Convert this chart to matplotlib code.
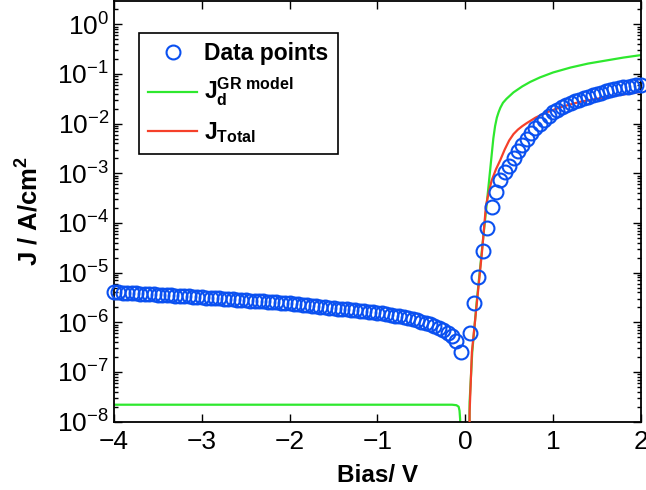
import matplotlib

matplotlib.use("Agg")
import matplotlib.pyplot as plt  # noqa: E402
import numpy as np  # noqa: E402
from matplotlib.ticker import LogLocator, NullFormatter  # noqa: E402

plt.rcParams["font.family"] = ["Liberation Sans", "DejaVu Sans"]
plt.rcParams["mathtext.fontset"] = "custom"
plt.rcParams["mathtext.rm"] = "Liberation Sans"
plt.rcParams["mathtext.it"] = "Liberation Sans:italic"
plt.rcParams["mathtext.bf"] = "Liberation Sans:bold"

bias_meas = [
    -4.00, -3.95, -3.90, -3.85, -3.80, -3.75, -3.70, -3.65, -3.60, -3.55,
    -3.50, -3.45, -3.40, -3.35, -3.30, -3.25, -3.20, -3.15, -3.10, -3.05,
    -3.00, -2.95, -2.90, -2.85, -2.80, -2.75, -2.70, -2.65, -2.60, -2.55,
    -2.50, -2.45, -2.40, -2.35, -2.30, -2.25, -2.20, -2.15, -2.10, -2.05,
    -2.00, -1.95, -1.90, -1.85, -1.80, -1.75, -1.70, -1.65, -1.60, -1.55,
    -1.50, -1.45, -1.40, -1.35, -1.30, -1.25, -1.20, -1.15, -1.10, -1.05,
    -1.00, -0.95, -0.90, -0.85, -0.80, -0.75, -0.70, -0.65, -0.60, -0.55,
    -0.50, -0.45, -0.40, -0.35, -0.30, -0.25, -0.20, -0.15, -0.10, -0.05,
    0.05, 0.10, 0.15, 0.20, 0.25, 0.30, 0.35, 0.40, 0.45, 0.50,
    0.55, 0.60, 0.65, 0.70, 0.75, 0.80, 0.85, 0.90, 0.95, 1.00,
    1.05, 1.10, 1.15, 1.20, 1.25, 1.30, 1.35, 1.40, 1.45, 1.50,
    1.55, 1.60, 1.65, 1.70, 1.75, 1.80, 1.85, 1.90, 1.95, 2.00,
]
logj_meas = [
    -5.40, -5.40, -5.41, -5.41, -5.42, -5.42, -5.43, -5.43, -5.44, -5.44,
    -5.45, -5.45, -5.46, -5.46, -5.47, -5.47, -5.48, -5.48, -5.49, -5.49,
    -5.50, -5.51, -5.51, -5.52, -5.52, -5.53, -5.53, -5.54, -5.55, -5.55,
    -5.56, -5.57, -5.57, -5.58, -5.58, -5.59, -5.60, -5.60, -5.61, -5.62,
    -5.62, -5.63, -5.64, -5.65, -5.66, -5.67, -5.68, -5.69, -5.70, -5.71,
    -5.72, -5.73, -5.73, -5.74, -5.75, -5.76, -5.77, -5.78, -5.79, -5.80,
    -5.81, -5.82, -5.84, -5.85, -5.87, -5.88, -5.90, -5.92, -5.94, -5.96,
    -5.99, -6.01, -6.04, -6.08, -6.12, -6.16, -6.22, -6.28, -6.37, -6.60,
    -6.22, -5.61, -5.08, -4.57, -4.10, -3.67, -3.37, -3.14, -2.97, -2.85,
    -2.70, -2.55, -2.43, -2.30, -2.18, -2.09, -2.00, -1.92, -1.84, -1.77,
    -1.72, -1.67, -1.63, -1.59, -1.55, -1.52, -1.49, -1.46, -1.43, -1.40,
    -1.38, -1.35, -1.33, -1.31, -1.29, -1.27, -1.26, -1.245, -1.23, -1.22,
]

# GR model current (green); the reverse branch drops out below 1e-8 near 0 V
bias_gr_rev = [-4.0, -0.15, -0.10, -0.075, -0.065, -0.058, -0.055]
logj_gr_rev = [-7.66, -7.66, -7.67, -7.70, -7.78, -7.95, -8.6]
bias_gr_fwd = [0.045, 0.05, 0.08, 0.13, 0.19, 0.24, 0.28, 0.32, 0.34, 0.36,
               0.38, 0.40, 0.43, 0.47, 0.55, 0.65, 0.74, 0.85, 1.00, 1.20,
               1.40, 1.60, 1.80, 2.00]
logj_gr_fwd = [-8.6, -7.6, -6.6, -5.6, -4.55, -3.7, -3.0, -2.3, -2.05, -1.88,
               -1.77, -1.68, -1.58, -1.50, -1.37, -1.25, -1.16, -1.07, -0.97, -0.87,
               -0.79, -0.73, -0.67, -0.62]

# total current (red)
bias_tot = [0.048, 0.05, 0.076, 0.133, 0.19, 0.236, 0.266, 0.30, 0.35, 0.40,
            0.45, 0.50, 0.55, 0.60, 0.65, 0.70, 0.80, 0.93, 1.10, 1.31,
            1.50, 1.69, 2.00]
logj_tot = [-8.6, -7.8, -6.6, -5.6, -4.6, -3.66, -3.40, -3.15, -2.92, -2.73,
            -2.52, -2.34, -2.21, -2.12, -2.05, -1.99, -1.88, -1.77, -1.66, -1.56,
            -1.50, -1.44, -1.36]

blue = "#0a50f0"
green = "#2ee82e"
red = "#f5402a"

fig = plt.figure(figsize=(6.46, 4.90), dpi=100)
ax = fig.add_axes([0.1765, 0.1396, 0.8155, 0.8584])

ax.plot(bias_gr_rev, 10 ** np.asarray(logj_gr_rev), color=green, lw=1.6, zorder=2)
ax.plot(bias_gr_fwd, 10 ** np.asarray(logj_gr_fwd), color=green, lw=1.6, zorder=2,
        label=r"$\mathbf{J_d^{GR\ model}}$")
ax.plot(bias_tot, 10 ** np.asarray(logj_tot), color=red, lw=1.6, zorder=3,
        label=r"$\mathbf{J_{Total}}$")
ax.plot(bias_meas, 10 ** np.asarray(logj_meas), ls="none", marker="o", ms=10,
        mfc="none", mec=blue, mew=1.5, zorder=4, clip_on=False,
        label="Data points")

ax.set_yscale("log")
ax.set_xlim(-4, 2)
ax.set_ylim(1e-8, 10 ** 0.47)
ax.set_xticks([-4, -3, -2, -1, 0, 1, 2])
ax.yaxis.set_major_locator(LogLocator(base=10, numticks=20))
ax.yaxis.set_minor_locator(LogLocator(base=10, subs=np.arange(2, 10), numticks=20))
ax.yaxis.set_minor_formatter(NullFormatter())

ax.tick_params(which="both", direction="in", top=True, right=True,
               labelsize=19, width=1.0)
ax.tick_params(which="major", length=6)
ax.tick_params(which="minor", length=3)
ax.tick_params(axis="x", pad=6)
for s in ax.spines.values():
    s.set_linewidth(1.3)

ax.set_xlabel("Bias/ V", fontsize=17.5, fontweight="bold", labelpad=7)
ax.set_ylabel(r"$\mathbf{J\ /\ A/cm^{2}}$", fontsize=18.5, labelpad=10)

h, l = ax.get_legend_handles_labels()
order = [2, 0, 1]
leg = ax.legend([h[i] for i in order], [l[i] for i in order],
                loc="upper left", bbox_to_anchor=(0.047, 0.925),
                borderaxespad=0, fancybox=False, framealpha=1,
                edgecolor="black", handlelength=2.15, labelspacing=0.5,
                borderpad=0.4, handletextpad=0.3,
                prop={"size": 16.5, "weight": "bold"})
leg.get_frame().set_linewidth(1.2)

fig.savefig("out.png", dpi=100)
